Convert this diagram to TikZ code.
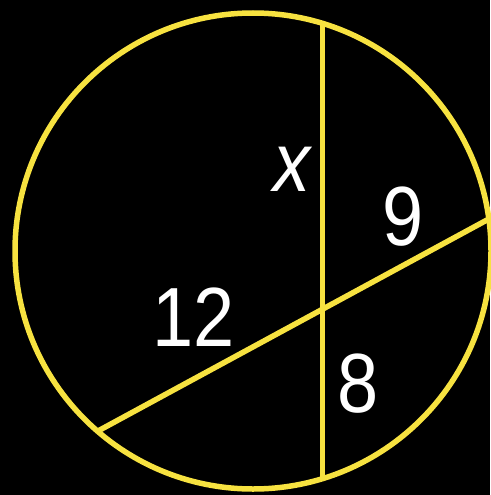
\documentclass[tikz,border=0pt]{standalone}
\usepackage{fontspec}
\setmainfont{Liberation Sans}
\definecolor{chordyellow}{RGB}{247,226,64}
\tikzset{
  yline/.style={draw=chordyellow, line width=5.5pt},
  lbl/.style={text=white, inner sep=0pt, xscale=0.88, font=\fontsize{84}{84}\selectfont},
}
\begin{document}
\begin{tikzpicture}[x=1pt,y=-1pt]
\fill[black] (0,0) rectangle (490,495);
\useasboundingbox (0,0) rectangle (490,495);
\coordinate (O) at (253,251);
\coordinate (T) at (322.7,23.4);
\coordinate (B) at (322.7,478.6);
\coordinate (L) at (96.7,431.7);
\coordinate (R) at (488.8,219);
\draw[yline] (O) circle[radius=238];
\draw[yline] (T) -- (B);
\draw[yline] (L) -- (R);
\node[lbl] (x) at (292,169) {\itshape x};
\node[lbl] (nine) at (403,217) {9};
\node[lbl] (twelve) at (193.5,317) {12};
\node[lbl] (eight) at (358,384) {8};
\end{tikzpicture}
\end{document}
